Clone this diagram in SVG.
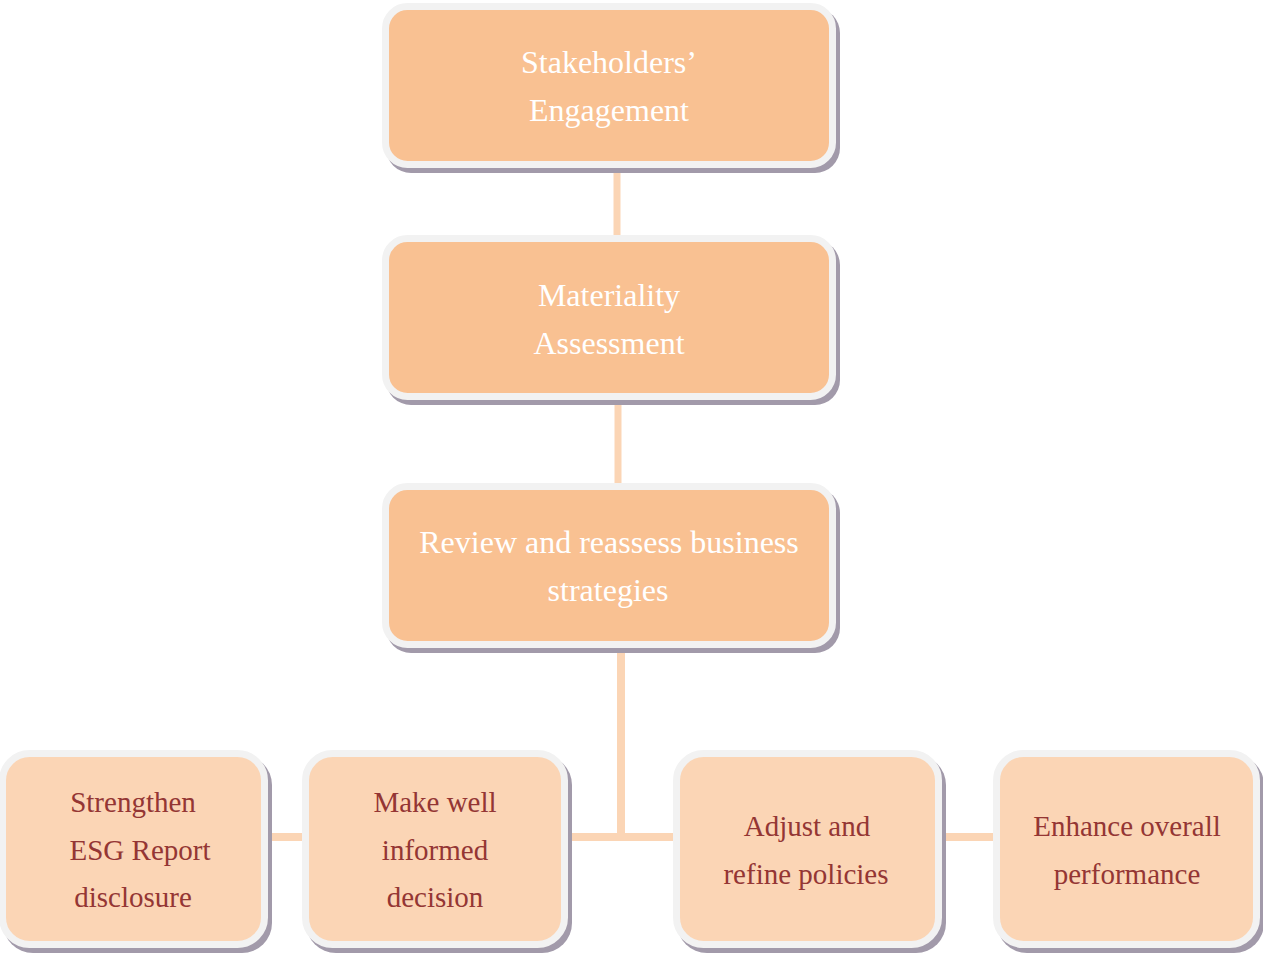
<svg xmlns="http://www.w3.org/2000/svg" width="1263" height="953" viewBox="0 0 1263 953">
<style>
.sh{fill:#a29aaa}
.top{fill:#f9c192;stroke:#f2f2f2;stroke-width:7}
.bot{fill:#fbd5b5;stroke:#f2f2f2;stroke-width:7}
.con{stroke:#fbd5b5;fill:none}
.tt{font-family:"Liberation Serif","Times New Roman",serif;font-size:32px;fill:#ffffff;text-anchor:middle}
.bt{font-family:"Liberation Serif","Times New Roman",serif;font-size:29px;fill:#943634;text-anchor:middle}
</style>
<rect width="1263" height="953" fill="#ffffff"/>
<g id="connectors">
<line class="con" x1="617" y1="165" x2="617" y2="240" stroke-width="7"/>
<line class="con" x1="618" y1="397" x2="618" y2="488" stroke-width="7"/>
<line class="con" x1="621" y1="645" x2="621" y2="837" stroke-width="8"/>
<line class="con" x1="262" y1="837" x2="1000" y2="837" stroke-width="8"/>
</g>
<g id="node-stakeholders">
<rect class="sh" x="386" y="8" width="454" height="165" rx="25"/>
<rect class="top" x="385.5" y="6.5" width="447" height="158" rx="22"/>
<text class="tt" x="609" y="73">Stakeholders’</text>
<text class="tt" x="609" y="121">Engagement</text>
</g>
<g id="node-materiality">
<rect class="sh" x="386" y="240" width="454" height="165" rx="25"/>
<rect class="top" x="385.5" y="238.5" width="447" height="158" rx="22"/>
<text class="tt" x="609" y="306">Materiality</text>
<text class="tt" x="609" y="354">Assessment</text>
</g>
<g id="node-review">
<rect class="sh" x="386" y="488" width="454" height="165" rx="25"/>
<rect class="top" x="385.5" y="486.5" width="447" height="158" rx="22"/>
<text class="tt" x="609" y="553">Review and reassess business</text>
<text class="tt" x="608" y="601">strategies</text>
</g>
<g id="node-strengthen">
<rect class="sh" x="3" y="755" width="269" height="198" rx="30"/>
<rect class="bot" x="2.5" y="753.5" width="262" height="191" rx="27"/>
<text class="bt" x="133" y="812">Strengthen</text>
<text class="bt" x="140" y="860">ESG Report</text>
<text class="bt" x="133" y="907">disclosure</text>
</g>
<g id="node-make">
<rect class="sh" x="306" y="755" width="266" height="198" rx="30"/>
<rect class="bot" x="305.5" y="753.5" width="259" height="191" rx="27"/>
<text class="bt" x="435" y="812">Make well</text>
<text class="bt" x="435" y="860">informed</text>
<text class="bt" x="435" y="907">decision</text>
</g>
<g id="node-adjust">
<rect class="sh" x="677" y="755" width="269" height="198" rx="30"/>
<rect class="bot" x="676.5" y="753.5" width="262" height="191" rx="27"/>
<text class="bt" x="807" y="836">Adjust and</text>
<text class="bt" x="806" y="884">refine policies</text>
</g>
<g id="node-enhance">
<rect class="sh" x="997" y="755" width="267" height="198" rx="30"/>
<rect class="bot" x="996.5" y="753.5" width="260" height="191" rx="27"/>
<text class="bt" x="1127" y="836">Enhance overall</text>
<text class="bt" x="1127" y="884">performance</text>
</g>
</svg>
